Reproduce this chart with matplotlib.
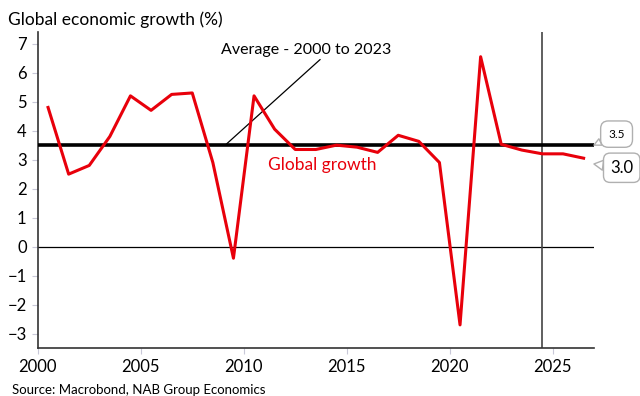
import matplotlib
matplotlib.use("Agg")
import matplotlib.pyplot as plt

plt.rcParams["font.family"] = ["Lato", "DejaVu Sans"]

years = list(range(2000, 2027))
growth = [4.8, 2.5, 2.8, 3.8, 5.2, 4.7, 5.25, 5.3, 2.9, -0.4,
          5.2, 4.05, 3.35, 3.35, 3.5, 3.43, 3.25, 3.84, 3.63, 2.9,
          -2.7, 6.55, 3.53, 3.33, 3.2, 3.2, 3.05]
average = 3.5
latest = 3.0
x_ticks = [2000, 2005, 2010, 2015, 2020, 2025]
y_ticks = [-3, -2, -1, 0, 1, 2, 3, 4, 5, 6, 7]

fig = plt.figure(figsize=(6.4, 3.96), dpi=100)
ax = fig.add_axes([0.059, 0.121, 0.869, 0.798])

xs = [y + 0.5 for y in years]
ax.plot(xs, growth, color="#e8000b", linewidth=2.2, zorder=4)
ax.axhline(average, color="black", linewidth=2.6, zorder=3)
ax.axhline(0, color="black", linewidth=0.9, zorder=2)
ax.axvline(2024.5, color="#444444", linewidth=1.2, zorder=2)

ax.set_xlim(2000, 2027)
ax.set_ylim(-3.5, 7.4)
ax.set_xticks(x_ticks)
ax.set_yticks(y_ticks)
ax.tick_params(axis="both", colors="#c8c8d8", labelcolor="black", labelsize=12, length=4)
ax.tick_params(axis="y", pad=4)
for s in ["top", "right"]:
    ax.spines[s].set_visible(False)
for s in ["left", "bottom"]:
    ax.spines[s].set_color("#333333")
    ax.spines[s].set_linewidth(1.2)

ax.annotate("Average - 2000 to 2023", xy=(2009.1, average), xytext=(2008.9, 6.55),
            fontsize=11.5, ha="left", va="bottom",
            arrowprops=dict(arrowstyle="-", color="black", linewidth=0.9,
                            shrinkA=0, shrinkB=0, relpos=(0.6, 0)))
ax.text(2011.2, 2.8, "Global growth", color="#e8000b", fontsize=12.5, ha="left", va="center")

ax.annotate("3.5", xy=(2027, average), xytext=(2028.1, 3.88), annotation_clip=False,
            fontsize=8.5, ha="center", va="center",
            bbox=dict(boxstyle="round,pad=0.65", fc="white", ec="#b0b0b0"),
            arrowprops=dict(arrowstyle="wedge,tail_width=0.6", fc="white", ec="#b0b0b0",
                            shrinkA=0, shrinkB=0))
ax.annotate("3.0", xy=(2027, 2.85), xytext=(2028.35, 2.72), annotation_clip=False,
            fontsize=12, ha="center", va="center",
            bbox=dict(boxstyle="round,pad=0.4", fc="white", ec="#b0b0b0"),
            arrowprops=dict(arrowstyle="wedge,tail_width=0.6", fc="white", ec="#b0b0b0",
                            shrinkA=0, shrinkB=0))

fig.text(0.012, 0.95, "Global economic growth (%)", fontsize=12.5, ha="left", va="center")
fig.text(0.018, 0.015, "Source: Macrobond, NAB Group Economics", fontsize=9.5, ha="left", va="center")

fig.savefig("out.png", dpi=100)
